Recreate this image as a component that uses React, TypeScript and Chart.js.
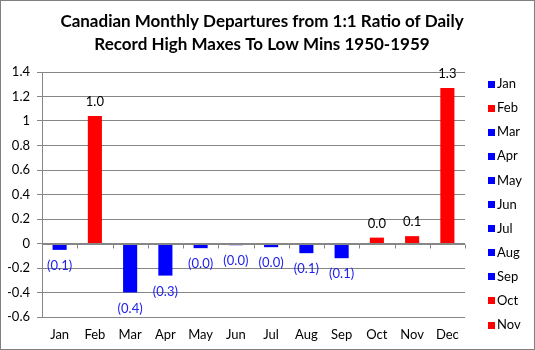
import React, { useEffect, useRef } from 'react';
import { Chart, registerables } from 'chart.js';

Chart.register(...registerables);

const TITLE_LINES = [
  'Canadian Monthly Departures from 1:1 Ratio of Daily',
  'Record High Maxes To Low Mins 1950-1959',
];
const MONTHS = ['Jan', 'Feb', 'Mar', 'Apr', 'May', 'Jun', 'Jul', 'Aug', 'Sep', 'Oct', 'Nov', 'Dec'];
const DEPARTURES = [-0.052, 1.041, -0.399, -0.262, -0.038, -0.014, -0.03, -0.079, -0.12, 0.048, 0.06, 1.27];
const Y_MIN = -0.6;
const Y_MAX = 1.4;
const Y_STEP = 0.2;

const POS_COLOR = '#FF0000';
const NEG_COLOR = '#0000FF';
const NEG_TEXT = '#2020F0';
const GRID = '#868686';
const FONT = 'Lato, "Open Sans", sans-serif';

function fmtValue(v: number): string {
  return v < 0 ? `(${Math.abs(v).toFixed(1)})` : v.toFixed(1);
}

const borderPlugin = {
  id: 'outerBorder',
  afterDraw(chart: any) {
    const { ctx, width, height } = chart;
    ctx.save();
    ctx.strokeStyle = '#808080';
    ctx.lineWidth = 1;
    ctx.strokeRect(0.5, 0.5, width - 1, height - 1);
    ctx.restore();
  },
};

const titlePlugin = {
  id: 'excelTitle',
  afterDraw(chart: any) {
    const { ctx } = chart;
    ctx.save();
    ctx.fillStyle = '#000';
    ctx.font = `bold 17px ${FONT}`;
    ctx.textAlign = 'center';
    ctx.textBaseline = 'middle';
    TITLE_LINES.forEach((line, i) => ctx.fillText(line, 262, 22 + i * 23));
    ctx.restore();
  },
};

const zeroAxisPlugin = {
  id: 'zeroAxis',
  afterDatasetsDraw(chart: any) {
    const { ctx, chartArea, scales } = chart;
    const y0 = Math.round(scales.y.getPixelForValue(0)) + 0.5;
    const n = MONTHS.length;
    const w = (chartArea.right - chartArea.left) / n;
    ctx.save();
    ctx.strokeStyle = GRID;
    ctx.lineWidth = 1;
    ctx.beginPath();
    ctx.moveTo(chartArea.left, y0);
    ctx.lineTo(chartArea.right, y0);
    for (let i = 1; i <= n; i++) {
      const x = Math.round(chartArea.left + i * w) + 0.5;
      ctx.moveTo(x, y0);
      ctx.lineTo(x, y0 + 4);
    }
    ctx.stroke();
    ctx.restore();
  },
};

const valueLabelPlugin = {
  id: 'valueLabels',
  afterDatasetsDraw(chart: any) {
    const { ctx } = chart;
    const meta = chart.getDatasetMeta(0);
    ctx.save();
    ctx.font = `13px ${FONT}`;
    ctx.textAlign = 'center';
    ctx.textBaseline = 'middle';
    meta.data.forEach((bar: any, i: number) => {
      const v = DEPARTURES[i];
      if (v < 0) {
        ctx.fillStyle = NEG_TEXT;
        ctx.fillText(fmtValue(v), bar.x, bar.y + 16);
      } else {
        ctx.fillStyle = '#000';
        ctx.fillText(fmtValue(v), bar.x, bar.y - 14);
      }
    });
    ctx.restore();
  },
};

const legendPlugin = {
  id: 'sideLegend',
  afterDraw(chart: any) {
    const { ctx, height } = chart;
    ctx.save();
    ctx.font = `13px ${FONT}`;
    ctx.textAlign = 'left';
    ctx.textBaseline = 'middle';
    MONTHS.forEach((m, i) => {
      const y = 84 + i * 24.1;
      if (y + 8 > height - 4) return;
      ctx.fillStyle = DEPARTURES[i] < 0 ? NEG_COLOR : POS_COLOR;
      ctx.fillRect(488, Math.round(y - 3.5), 7, 7);
      ctx.fillStyle = '#000';
      ctx.fillText(m, 497, y);
    });
    ctx.restore();
  },
};

export default function App() {
  const ref = useRef<HTMLCanvasElement>(null);
  useEffect(() => {
    const barColors = DEPARTURES.map((v) => (v < 0 ? NEG_COLOR : POS_COLOR));
    const chart = new Chart(ref.current as HTMLCanvasElement, {
      type: 'bar',
      data: {
        labels: MONTHS,
        datasets: [
          {
            data: DEPARTURES,
            backgroundColor: barColors,
            borderWidth: 0,
            categoryPercentage: 1,
            barPercentage: 0.4,
          },
        ],
      },
      options: {
        responsive: false,
        animation: false,
        devicePixelRatio: 1,
        layout: { padding: { left: 8, right: 70, top: 72, bottom: 3 } },
        plugins: {
          legend: { display: false },
          tooltip: { enabled: false },
          title: { display: false },
        },
        scales: {
          x: {
            grid: { display: false, drawTicks: false },
            border: { display: false },
            ticks: { color: '#000', font: { family: FONT, size: 13 }, padding: 10 },
            afterFit: (s: any) => {
              s.height = 30;
            },
          },
          y: {
            min: Y_MIN,
            max: Y_MAX,
            ticks: {
              stepSize: Y_STEP,
              color: '#000',
              font: { family: FONT, size: 13 },
              padding: 7,
              callback: (v: any) => String(Number(Number(v).toFixed(1))),
            },
            grid: { color: GRID, tickLength: 5, drawTicks: true },
            border: { color: GRID },
            afterFit: (s: any) => {
              s.width = 34;
            },
          },
        },
      },
      plugins: [zeroAxisPlugin, valueLabelPlugin, legendPlugin, titlePlugin, borderPlugin],
    });
    return () => chart.destroy();
  }, []);
  return (
    <div style={{ position: 'absolute', left: 0, top: 0, width: 535, height: 350, background: '#fff' }}>
      <canvas ref={ref} width={535} height={350} style={{ display: 'block' }} />
    </div>
  );
}
